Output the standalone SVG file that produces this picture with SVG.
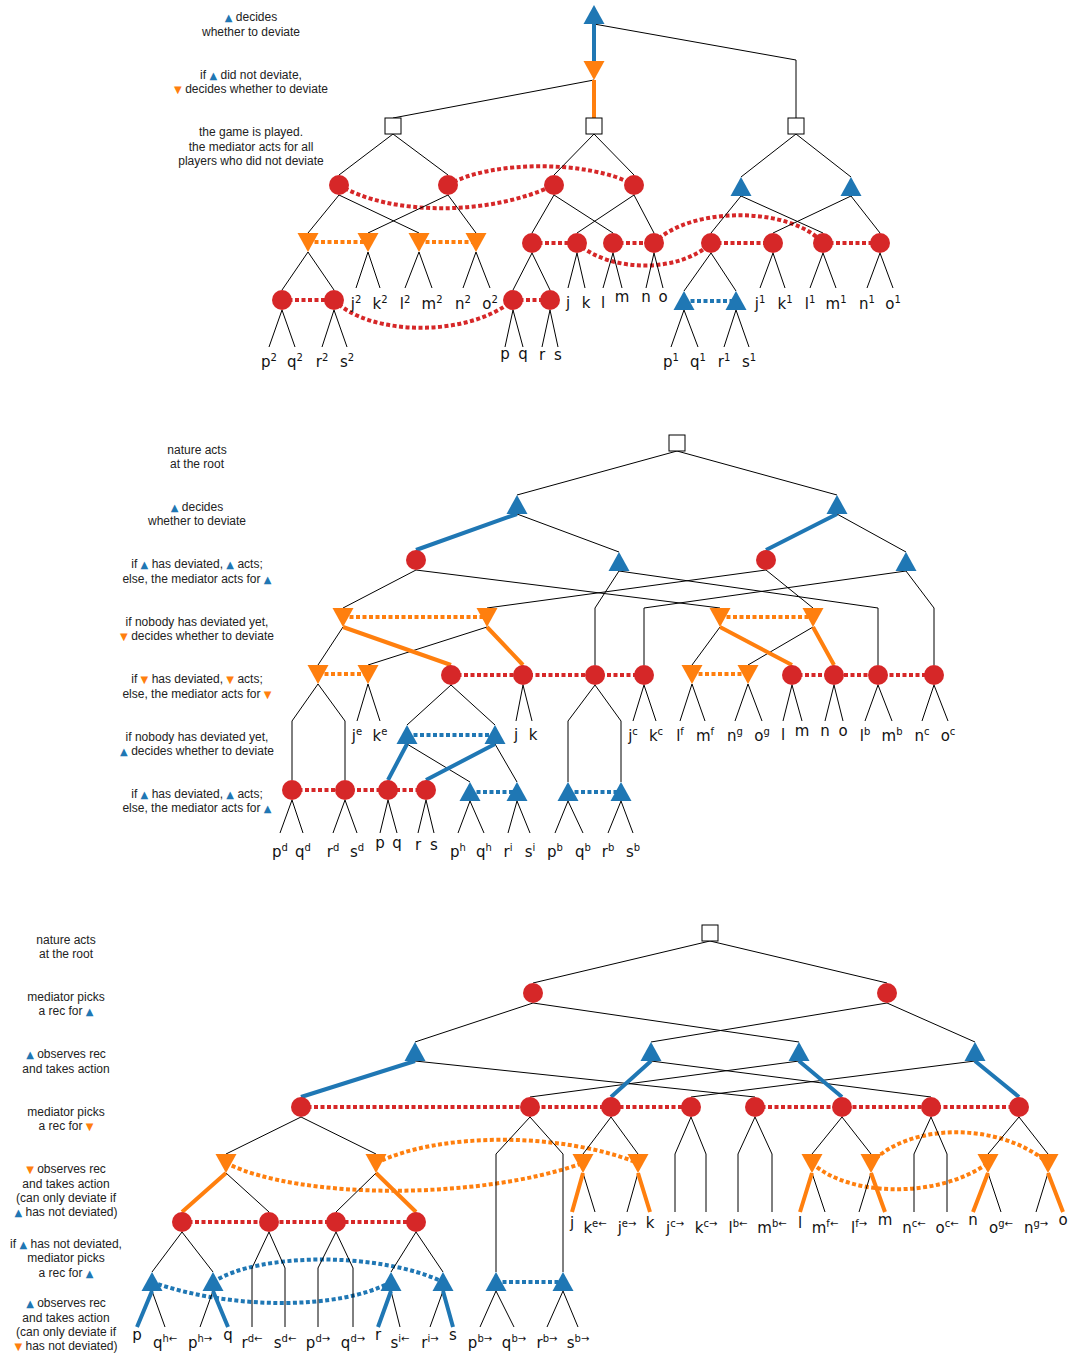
<svg xmlns="http://www.w3.org/2000/svg" xmlns:xlink="http://www.w3.org/1999/xlink" width="1070" height="1355" viewBox="0 0 1070 1355">
<style>
.e{fill:none;stroke:#000;stroke-width:1}
.tb{fill:none;stroke:#1f77b4;stroke-width:4}
.to{fill:none;stroke:#ff7f0e;stroke-width:4}
.dr{fill:none;stroke:#d62728;stroke-width:4;stroke-dasharray:4 2.5}
.db{fill:none;stroke:#1f77b4;stroke-width:4;stroke-dasharray:4 2.5}
.do{fill:none;stroke:#ff7f0e;stroke-width:4;stroke-dasharray:4 2.5}
.lbl{font-family:"Liberation Sans",Arial,sans-serif;font-size:12px;text-anchor:middle;fill:#222}
.lf{font-family:"DejaVu Sans",sans-serif;font-size:15px;text-anchor:middle;fill:#111}
.sup{font-size:10px}
.b{fill:#1f77b4;font-family:"DejaVu Sans",sans-serif;font-size:10px}
.o{fill:#ff7f0e;font-family:"DejaVu Sans",sans-serif;font-size:10px}
</style>
<defs>
<circle id="rc" r="10" fill="#d62728"/>
<path id="bt" d="M0,-10 L10.5,9 L-10.5,9 Z" fill="#1f77b4"/>
<path id="ot" d="M-10.5,-9 L10.5,-9 L0,10 Z" fill="#ff7f0e"/>
<rect id="sq" x="-8" y="-8" width="16" height="16" fill="#fff" stroke="#000" stroke-width="1"/>
</defs>
<rect width="1070" height="1355" fill="#fff"/>

<!-- stage descriptions -->
<g id="captions">
<text class="lbl" x="251" y="21"><tspan class="b">▲</tspan> decides</text>
<text class="lbl" x="251" y="36">whether to deviate</text>
<text class="lbl" x="251" y="79">if <tspan class="b">▲</tspan> did not deviate,</text>
<text class="lbl" x="251" y="93"><tspan class="o">▼</tspan> decides whether to deviate</text>
<text class="lbl" x="251" y="136">the game is played.</text>
<text class="lbl" x="251" y="151">the mediator acts for all</text>
<text class="lbl" x="251" y="165">players who did not deviate</text>

<text class="lbl" x="197" y="454">nature acts</text>
<text class="lbl" x="197" y="468">at the root</text>
<text class="lbl" x="197" y="511"><tspan class="b">▲</tspan> decides</text>
<text class="lbl" x="197" y="525">whether to deviate</text>
<text class="lbl" x="197" y="568">if <tspan class="b">▲</tspan> has deviated, <tspan class="b">▲</tspan> acts;</text>
<text class="lbl" x="197" y="583">else, the mediator acts for <tspan class="b">▲</tspan></text>
<text class="lbl" x="197" y="626">if nobody has deviated yet,</text>
<text class="lbl" x="197" y="640"><tspan class="o">▼</tspan> decides whether to deviate</text>
<text class="lbl" x="197" y="683">if <tspan class="o">▼</tspan> has deviated, <tspan class="o">▼</tspan> acts;</text>
<text class="lbl" x="197" y="698">else, the mediator acts for <tspan class="o">▼</tspan></text>
<text class="lbl" x="197" y="741">if nobody has deviated yet,</text>
<text class="lbl" x="197" y="755"><tspan class="b">▲</tspan> decides whether to deviate</text>
<text class="lbl" x="197" y="798">if <tspan class="b">▲</tspan> has deviated, <tspan class="b">▲</tspan> acts;</text>
<text class="lbl" x="197" y="812">else, the mediator acts for <tspan class="b">▲</tspan></text>

<text class="lbl" x="66" y="944">nature acts</text>
<text class="lbl" x="66" y="958">at the root</text>
<text class="lbl" x="66" y="1001">mediator picks</text>
<text class="lbl" x="66" y="1015">a rec for <tspan class="b">▲</tspan></text>
<text class="lbl" x="66" y="1058"><tspan class="b">▲</tspan> observes rec</text>
<text class="lbl" x="66" y="1073">and takes action</text>
<text class="lbl" x="66" y="1116">mediator picks</text>
<text class="lbl" x="66" y="1130">a rec for <tspan class="o">▼</tspan></text>
<text class="lbl" x="66" y="1173"><tspan class="o">▼</tspan> observes rec</text>
<text class="lbl" x="66" y="1188">and takes action</text>
<text class="lbl" x="66" y="1202">(can only deviate if</text>
<text class="lbl" x="66" y="1216"><tspan class="b">▲</tspan> has not deviated)</text>
<text class="lbl" x="66" y="1248">if <tspan class="b">▲</tspan> has not deviated,</text>
<text class="lbl" x="66" y="1262">mediator picks</text>
<text class="lbl" x="66" y="1277">a rec for <tspan class="b">▲</tspan></text>
<text class="lbl" x="66" y="1307"><tspan class="b">▲</tspan> observes rec</text>
<text class="lbl" x="66" y="1322">and takes action</text>
<text class="lbl" x="66" y="1336">(can only deviate if</text>
<text class="lbl" x="66" y="1350"><tspan class="o">▼</tspan> has not deviated)</text>
</g>

<g id="connectors">
<!-- upper tree: information sets -->
<path class="dr" d="M339,185 C390,216 490,216 554,185"/>
<path class="dr" d="M448,185 C490,160 590,160 634,185"/>
<path class="dr" d="M532,243 H577 M613,243 H654 M711,243 H773 M823,243 H880 M282,300 H334 M513,300 H550"/>
<path class="dr" d="M577,243 C610,273 680,273 711,243"/>
<path class="dr" d="M654,243 C690,206 790,206 823,243"/>
<path class="dr" d="M334,300 C370,337 470,337 513,300"/>
<path class="do" d="M308,242 H368 M419,242 H476"/>
<path class="db" d="M684,301 H736"/>
<!-- upper tree: moves -->
<path class="e" d="M594,24 L796,60 L796,118 M594,80 L393,118 M393,134 L339,175 M393,134 L448,175 M594,134 L554,175 M594,134 L634,175 M796,134 L741,177 M796,134 L851,177"/>
<path class="e" d="M339,195 L308,233 M339,195 L419,233 M448,195 L368,233 M448,195 L476,233 M554,195 L532,233 M554,195 L613,233 M634,195 L577,233 M634,195 L654,233 M741,196 L711,233 M741,196 L823,233 M851,196 L773,233 M851,196 L880,233"/>
<path class="e" d="M308,252 L282,290 M308,252 L334,290 M368,252 L356,288 M368,252 L380,288 M419,252 L405,288 M419,252 L432,288 M476,252 L463,288 M476,252 L490,288"/>
<path class="e" d="M532,253 L513,290 M532,253 L550,290 M577,253 L568,288 M577,253 L585,288 M613,253 L603,288 M613,253 L622,288 M654,253 L646,288 M654,253 L663,288 M711,253 L684,291 M711,253 L736,291 M773,253 L760,288 M773,253 L785,288 M823,253 L810,288 M823,253 L836,288 M880,253 L867,288 M880,253 L893,288"/>
<path class="e" d="M282,310 L269,347 M282,310 L295,347 M334,310 L322,347 M334,310 L347,347 M513,310 L505,347 M513,310 L523,347 M550,310 L542,347 M550,310 L558,347 M684,310 L671,347 M684,310 L698,347 M736,310 L724,347 M736,310 L749,347"/>
<path class="tb" d="M594,24 V61"/>
<path class="to" d="M594,80 V118"/>

<!-- middle tree: information sets -->
<path class="do" d="M343,617 H487 M720,617 H813 M318,674 H368 M692,674 H748"/>
<path class="dr" d="M451,675 H644 M792,675 H934 M292,790 H426"/>
<path class="db" d="M407,735 H495 M470,792 H517 M568,792 H621"/>
<!-- middle tree: moves -->
<path class="e" d="M677,451 L517,495 M677,451 L837,495 M517,514 L619,552 M837,514 L906,552"/>
<path class="e" d="M416,570 L343,608 M416,570 L720,608 M766,570 L487,608 M766,570 L813,608 M619,571 L595,608 V665 M619,571 L878,608 V665 M906,571 L644,608 V665 M906,571 L934,608 V665"/>
<path class="e" d="M343,627 L318,665 M487,627 L368,665 M720,627 L692,665 M813,627 L748,665"/>
<path class="e" d="M318,684 L292,721 V780 M318,684 L345,721 V780 M368,684 L357,721 M368,684 L380,721 M451,685 L407,725 M451,685 L495,725 M523,685 L516,721 M523,685 L532,721 M595,685 L568,721 V782 M595,685 L621,721 V782 M644,685 L633,721 M644,685 L656,721"/>
<path class="e" d="M692,684 L680,721 M692,684 L705,721 M748,684 L735,721 M748,684 L762,721 M792,685 L783,721 M792,685 L802,721 M834,685 L825,721 M834,685 L843,721 M878,685 L865,721 M878,685 L892,721 M934,685 L922,721 M934,685 L948,721"/>
<path class="e" d="M407,744 L470,782 M495,744 L517,782"/>
<path class="e" d="M292,800 L280,833 M292,800 L303,833 M345,800 L333,833 M345,800 L357,833 M388,800 L380,833 M388,800 L397,833 M426,800 L418,833 M426,800 L434,833 M470,801 L458,833 M470,801 L484,833 M517,801 L508,833 M517,801 L530,833 M568,801 L555,833 M568,801 L583,833 M621,801 L608,833 M621,801 L633,833"/>
<path class="tb" d="M517,514 L416,550 M837,514 L766,550 M407,744 L388,780 M495,744 L426,780"/>
<path class="to" d="M343,627 L451,665 M487,627 L523,665 M720,627 L792,665 M813,627 L834,665"/>

<!-- lower tree: information sets -->
<path class="dr" d="M301,1107 H691 M755,1107 H1019 M182,1222 H416"/>
<path class="do" d="M226,1163 C300,1200 480,1200 583,1163"/>
<path class="do" d="M376,1163 C440,1132 560,1132 638,1163"/>
<path class="do" d="M812,1163 C850,1198 940,1198 988,1163"/>
<path class="do" d="M871,1163 C910,1122 1000,1122 1048,1163"/>
<path class="db" d="M152,1282 C230,1310 340,1310 391,1282"/>
<path class="db" d="M213,1282 C260,1252 380,1252 443,1282"/>
<path class="db" d="M496,1282 H563"/>
<!-- lower tree: moves -->
<path class="e" d="M710,941 L533,983 M710,941 L887,983 M533,1003 L415,1042 M533,1003 L799,1042 M887,1003 L651,1042 M887,1003 L975,1042"/>
<path class="e" d="M415,1061 L755,1097 M651,1061 L931,1097 M799,1061 L530,1097 M975,1061 L691,1097"/>
<path class="e" d="M301,1117 L226,1154 M301,1117 L376,1154 M530,1117 L496,1154 V1272 M530,1117 L563,1154 V1272 M611,1117 L583,1154 M611,1117 L638,1154 M691,1117 L675,1154 V1212 M691,1117 L706,1154 V1212 M755,1117 L738,1154 V1212 M755,1117 L772,1154 V1212 M842,1117 L812,1154 M842,1117 L871,1154 M931,1117 L914,1154 V1212 M931,1117 L947,1154 V1212 M1019,1117 L988,1154 M1019,1117 L1048,1154"/>
<path class="e" d="M226,1173 L269,1212 M376,1173 L336,1212 M583,1173 L595,1212 M638,1173 L627,1212 M812,1173 L825,1212 M871,1173 L859,1212 M988,1173 L1001,1212 M1048,1173 L1036,1212"/>
<path class="e" d="M182,1232 L152,1272 M182,1232 L213,1272 M269,1232 L252,1268 V1327 M269,1232 L285,1268 V1327 M336,1232 L318,1268 V1327 M336,1232 L353,1268 V1327 M416,1232 L391,1272 M416,1232 L443,1272"/>
<path class="e" d="M152,1291 L165,1327 M213,1291 L200,1327 M391,1291 L400,1327 M443,1291 L430,1327 M496,1291 L480,1327 M496,1291 L514,1327 M563,1291 L547,1327 M563,1291 L578,1327"/>
<path class="tb" d="M415,1061 L301,1097 M651,1061 L611,1097 M799,1061 L842,1097 M975,1061 L1019,1097 M152,1291 L137,1327 M213,1291 L228,1327 M391,1291 L378,1327 M443,1291 L453,1327"/>
<path class="to" d="M226,1173 L182,1212 M376,1173 L416,1212 M583,1173 L572,1212 M638,1173 L650,1212 M812,1173 L800,1212 M871,1173 L885,1212 M988,1173 L973,1212 M1048,1173 L1063,1212"/>
</g>

<!-- upper tree nodes -->
<g id="t-root"><use href="#bt" x="594" y="15"/></g>
<g id="t-dev2"><use href="#ot" x="594" y="70"/></g>
<g id="t-game1"><use href="#sq" x="393" y="126"/></g>
<g id="t-game2"><use href="#sq" x="594" y="126"/></g>
<g id="t-game3"><use href="#sq" x="796" y="126"/></g>
<g id="t-m1"><use href="#rc" x="339" y="185"/></g>
<g id="t-m2"><use href="#rc" x="448" y="185"/></g>
<g id="t-m3"><use href="#rc" x="554" y="185"/></g>
<g id="t-m4"><use href="#rc" x="634" y="185"/></g>
<g id="t-p1a"><use href="#bt" x="741" y="187"/></g>
<g id="t-p1b"><use href="#bt" x="851" y="187"/></g>
<g id="t-p2a"><use href="#ot" x="308" y="242"/></g>
<g id="t-p2b"><use href="#ot" x="368" y="242"/></g>
<g id="t-p2c"><use href="#ot" x="419" y="242"/></g>
<g id="t-p2d"><use href="#ot" x="476" y="242"/></g>
<g id="t-m5"><use href="#rc" x="532" y="243"/></g>
<g id="t-m6"><use href="#rc" x="577" y="243"/></g>
<g id="t-m7"><use href="#rc" x="613" y="243"/></g>
<g id="t-m8"><use href="#rc" x="654" y="243"/></g>
<g id="t-m9"><use href="#rc" x="711" y="243"/></g>
<g id="t-m10"><use href="#rc" x="773" y="243"/></g>
<g id="t-m11"><use href="#rc" x="823" y="243"/></g>
<g id="t-m12"><use href="#rc" x="880" y="243"/></g>
<g id="t-m13"><use href="#rc" x="282" y="300"/></g>
<g id="t-m14"><use href="#rc" x="334" y="300"/></g>
<g id="t-m15"><use href="#rc" x="513" y="300"/></g>
<g id="t-m16"><use href="#rc" x="550" y="300"/></g>
<g id="t-p1c"><use href="#bt" x="684" y="301"/></g>
<g id="t-p1d"><use href="#bt" x="736" y="301"/></g>

<!-- middle tree nodes -->
<g id="m-root"><use href="#sq" x="677" y="443"/></g>
<g id="m-p1a"><use href="#bt" x="517" y="505"/></g>
<g id="m-p1b"><use href="#bt" x="837" y="505"/></g>
<g id="m-m1"><use href="#rc" x="416" y="560"/></g>
<g id="m-p1c"><use href="#bt" x="619" y="562"/></g>
<g id="m-m2"><use href="#rc" x="766" y="560"/></g>
<g id="m-p1d"><use href="#bt" x="906" y="562"/></g>
<g id="m-p2a"><use href="#ot" x="343" y="617"/></g>
<g id="m-p2b"><use href="#ot" x="487" y="617"/></g>
<g id="m-p2c"><use href="#ot" x="720" y="617"/></g>
<g id="m-p2d"><use href="#ot" x="813" y="617"/></g>
<g id="m-p2e"><use href="#ot" x="318" y="674"/></g>
<g id="m-p2f"><use href="#ot" x="368" y="674"/></g>
<g id="m-p2g"><use href="#ot" x="692" y="674"/></g>
<g id="m-p2h"><use href="#ot" x="748" y="674"/></g>
<g id="m-m3"><use href="#rc" x="451" y="675"/></g>
<g id="m-m4"><use href="#rc" x="523" y="675"/></g>
<g id="m-m5"><use href="#rc" x="595" y="675"/></g>
<g id="m-m6"><use href="#rc" x="644" y="675"/></g>
<g id="m-m7"><use href="#rc" x="792" y="675"/></g>
<g id="m-m8"><use href="#rc" x="834" y="675"/></g>
<g id="m-m9"><use href="#rc" x="878" y="675"/></g>
<g id="m-m10"><use href="#rc" x="934" y="675"/></g>
<g id="m-p1e"><use href="#bt" x="407" y="735"/></g>
<g id="m-p1f"><use href="#bt" x="495" y="735"/></g>
<g id="m-m11"><use href="#rc" x="292" y="790"/></g>
<g id="m-m12"><use href="#rc" x="345" y="790"/></g>
<g id="m-m13"><use href="#rc" x="388" y="790"/></g>
<g id="m-m14"><use href="#rc" x="426" y="790"/></g>
<g id="m-p1g"><use href="#bt" x="470" y="792"/></g>
<g id="m-p1h"><use href="#bt" x="517" y="792"/></g>
<g id="m-p1i"><use href="#bt" x="568" y="792"/></g>
<g id="m-p1j"><use href="#bt" x="621" y="792"/></g>

<!-- lower tree nodes -->
<g id="b-root"><use href="#sq" x="710" y="933"/></g>
<g id="b-m1"><use href="#rc" x="533" y="993"/></g>
<g id="b-m2"><use href="#rc" x="887" y="993"/></g>
<g id="b-p1a"><use href="#bt" x="415" y="1052"/></g>
<g id="b-p1b"><use href="#bt" x="651" y="1052"/></g>
<g id="b-p1c"><use href="#bt" x="799" y="1052"/></g>
<g id="b-p1d"><use href="#bt" x="975" y="1052"/></g>
<g id="b-m3"><use href="#rc" x="301" y="1107"/></g>
<g id="b-m4"><use href="#rc" x="530" y="1107"/></g>
<g id="b-m5"><use href="#rc" x="611" y="1107"/></g>
<g id="b-m6"><use href="#rc" x="691" y="1107"/></g>
<g id="b-m7"><use href="#rc" x="755" y="1107"/></g>
<g id="b-m8"><use href="#rc" x="842" y="1107"/></g>
<g id="b-m9"><use href="#rc" x="931" y="1107"/></g>
<g id="b-m10"><use href="#rc" x="1019" y="1107"/></g>
<g id="b-p2a"><use href="#ot" x="226" y="1163"/></g>
<g id="b-p2b"><use href="#ot" x="376" y="1163"/></g>
<g id="b-p2c"><use href="#ot" x="583" y="1163"/></g>
<g id="b-p2d"><use href="#ot" x="638" y="1163"/></g>
<g id="b-p2e"><use href="#ot" x="812" y="1163"/></g>
<g id="b-p2f"><use href="#ot" x="871" y="1163"/></g>
<g id="b-p2g"><use href="#ot" x="988" y="1163"/></g>
<g id="b-p2h"><use href="#ot" x="1048" y="1163"/></g>
<g id="b-m11"><use href="#rc" x="182" y="1222"/></g>
<g id="b-m12"><use href="#rc" x="269" y="1222"/></g>
<g id="b-m13"><use href="#rc" x="336" y="1222"/></g>
<g id="b-m14"><use href="#rc" x="416" y="1222"/></g>
<g id="b-p1e"><use href="#bt" x="152" y="1282"/></g>
<g id="b-p1f"><use href="#bt" x="213" y="1282"/></g>
<g id="b-p1g"><use href="#bt" x="391" y="1282"/></g>
<g id="b-p1h"><use href="#bt" x="443" y="1282"/></g>
<g id="b-p1i"><use href="#bt" x="496" y="1282"/></g>
<g id="b-p1j"><use href="#bt" x="563" y="1282"/></g>

<!-- outcome labels -->
<g id="outcomes">
<text class="lf" x="356" y="309">j<tspan class="sup" dy="-6">2</tspan></text>
<text class="lf" x="380" y="309">k<tspan class="sup" dy="-6">2</tspan></text>
<text class="lf" x="405" y="309">l<tspan class="sup" dy="-6">2</tspan></text>
<text class="lf" x="432" y="309">m<tspan class="sup" dy="-6">2</tspan></text>
<text class="lf" x="463" y="309">n<tspan class="sup" dy="-6">2</tspan></text>
<text class="lf" x="490" y="309">o<tspan class="sup" dy="-6">2</tspan></text>
<text class="lf" x="568" y="308">j</text>
<text class="lf" x="586" y="308">k</text>
<text class="lf" x="603" y="308">l</text>
<text class="lf" x="622" y="302">m</text>
<text class="lf" x="646" y="302">n</text>
<text class="lf" x="663" y="302">o</text>
<text class="lf" x="760" y="309">j<tspan class="sup" dy="-6">1</tspan></text>
<text class="lf" x="785" y="309">k<tspan class="sup" dy="-6">1</tspan></text>
<text class="lf" x="810" y="309">l<tspan class="sup" dy="-6">1</tspan></text>
<text class="lf" x="836" y="309">m<tspan class="sup" dy="-6">1</tspan></text>
<text class="lf" x="867" y="309">n<tspan class="sup" dy="-6">1</tspan></text>
<text class="lf" x="893" y="309">o<tspan class="sup" dy="-6">1</tspan></text>
<text class="lf" x="269" y="367">p<tspan class="sup" dy="-6">2</tspan></text>
<text class="lf" x="295" y="367">q<tspan class="sup" dy="-6">2</tspan></text>
<text class="lf" x="322" y="367">r<tspan class="sup" dy="-6">2</tspan></text>
<text class="lf" x="347" y="367">s<tspan class="sup" dy="-6">2</tspan></text>
<text class="lf" x="505" y="359">p</text>
<text class="lf" x="523" y="359">q</text>
<text class="lf" x="542" y="360">r</text>
<text class="lf" x="558" y="360">s</text>
<text class="lf" x="671" y="367">p<tspan class="sup" dy="-6">1</tspan></text>
<text class="lf" x="698" y="367">q<tspan class="sup" dy="-6">1</tspan></text>
<text class="lf" x="724" y="367">r<tspan class="sup" dy="-6">1</tspan></text>
<text class="lf" x="749" y="367">s<tspan class="sup" dy="-6">1</tspan></text>

<text class="lf" x="357" y="741">j<tspan class="sup" dy="-6">e</tspan></text>
<text class="lf" x="380" y="741">k<tspan class="sup" dy="-6">e</tspan></text>
<text class="lf" x="516" y="740">j</text>
<text class="lf" x="533" y="740">k</text>
<text class="lf" x="633" y="741">j<tspan class="sup" dy="-6">c</tspan></text>
<text class="lf" x="656" y="741">k<tspan class="sup" dy="-6">c</tspan></text>
<text class="lf" x="680" y="741">l<tspan class="sup" dy="-6">f</tspan></text>
<text class="lf" x="705" y="741">m<tspan class="sup" dy="-6">f</tspan></text>
<text class="lf" x="735" y="741">n<tspan class="sup" dy="-6">g</tspan></text>
<text class="lf" x="762" y="741">o<tspan class="sup" dy="-6">g</tspan></text>
<text class="lf" x="783" y="740">l</text>
<text class="lf" x="802" y="736">m</text>
<text class="lf" x="825" y="736">n</text>
<text class="lf" x="843" y="736">o</text>
<text class="lf" x="865" y="741">l<tspan class="sup" dy="-6">b</tspan></text>
<text class="lf" x="892" y="741">m<tspan class="sup" dy="-6">b</tspan></text>
<text class="lf" x="922" y="741">n<tspan class="sup" dy="-6">c</tspan></text>
<text class="lf" x="948" y="741">o<tspan class="sup" dy="-6">c</tspan></text>
<text class="lf" x="280" y="857">p<tspan class="sup" dy="-6">d</tspan></text>
<text class="lf" x="303" y="857">q<tspan class="sup" dy="-6">d</tspan></text>
<text class="lf" x="333" y="857">r<tspan class="sup" dy="-6">d</tspan></text>
<text class="lf" x="357" y="857">s<tspan class="sup" dy="-6">d</tspan></text>
<text class="lf" x="380" y="848">p</text>
<text class="lf" x="397" y="848">q</text>
<text class="lf" x="418" y="850">r</text>
<text class="lf" x="434" y="850">s</text>
<text class="lf" x="458" y="857">p<tspan class="sup" dy="-6">h</tspan></text>
<text class="lf" x="484" y="857">q<tspan class="sup" dy="-6">h</tspan></text>
<text class="lf" x="508" y="857">r<tspan class="sup" dy="-6">i</tspan></text>
<text class="lf" x="530" y="857">s<tspan class="sup" dy="-6">i</tspan></text>
<text class="lf" x="555" y="857">p<tspan class="sup" dy="-6">b</tspan></text>
<text class="lf" x="583" y="857">q<tspan class="sup" dy="-6">b</tspan></text>
<text class="lf" x="608" y="857">r<tspan class="sup" dy="-6">b</tspan></text>
<text class="lf" x="633" y="857">s<tspan class="sup" dy="-6">b</tspan></text>

<text class="lf" x="572" y="1228">j</text>
<text class="lf" x="595" y="1233">k<tspan class="sup" dy="-6">e←</tspan></text>
<text class="lf" x="627" y="1233">j<tspan class="sup" dy="-6">e→</tspan></text>
<text class="lf" x="650" y="1228">k</text>
<text class="lf" x="675" y="1233">j<tspan class="sup" dy="-6">c→</tspan></text>
<text class="lf" x="706" y="1233">k<tspan class="sup" dy="-6">c→</tspan></text>
<text class="lf" x="738" y="1233">l<tspan class="sup" dy="-6">b←</tspan></text>
<text class="lf" x="772" y="1233">m<tspan class="sup" dy="-6">b←</tspan></text>
<text class="lf" x="800" y="1228">l</text>
<text class="lf" x="825" y="1233">m<tspan class="sup" dy="-6">f←</tspan></text>
<text class="lf" x="859" y="1233">l<tspan class="sup" dy="-6">f→</tspan></text>
<text class="lf" x="885" y="1225">m</text>
<text class="lf" x="914" y="1233">n<tspan class="sup" dy="-6">c←</tspan></text>
<text class="lf" x="947" y="1233">o<tspan class="sup" dy="-6">c←</tspan></text>
<text class="lf" x="973" y="1225">n</text>
<text class="lf" x="1001" y="1233">o<tspan class="sup" dy="-6">g←</tspan></text>
<text class="lf" x="1036" y="1233">n<tspan class="sup" dy="-6">g→</tspan></text>
<text class="lf" x="1063" y="1225">o</text>
<text class="lf" x="137" y="1340">p</text>
<text class="lf" x="165" y="1348">q<tspan class="sup" dy="-6">h←</tspan></text>
<text class="lf" x="200" y="1348">p<tspan class="sup" dy="-6">h→</tspan></text>
<text class="lf" x="228" y="1340">q</text>
<text class="lf" x="252" y="1348">r<tspan class="sup" dy="-6">d←</tspan></text>
<text class="lf" x="285" y="1348">s<tspan class="sup" dy="-6">d←</tspan></text>
<text class="lf" x="318" y="1348">p<tspan class="sup" dy="-6">d→</tspan></text>
<text class="lf" x="353" y="1348">q<tspan class="sup" dy="-6">d→</tspan></text>
<text class="lf" x="378" y="1340">r</text>
<text class="lf" x="400" y="1348">s<tspan class="sup" dy="-6">i←</tspan></text>
<text class="lf" x="430" y="1348">r<tspan class="sup" dy="-6">i→</tspan></text>
<text class="lf" x="453" y="1340">s</text>
<text class="lf" x="480" y="1348">p<tspan class="sup" dy="-6">b→</tspan></text>
<text class="lf" x="514" y="1348">q<tspan class="sup" dy="-6">b→</tspan></text>
<text class="lf" x="547" y="1348">r<tspan class="sup" dy="-6">b→</tspan></text>
<text class="lf" x="578" y="1348">s<tspan class="sup" dy="-6">b→</tspan></text>
</g>
</svg>
